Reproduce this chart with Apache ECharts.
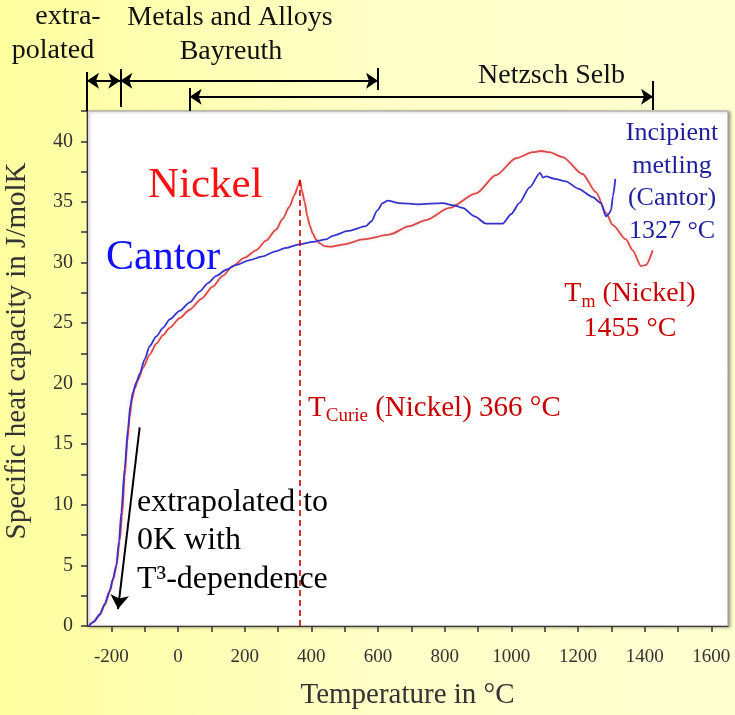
<!DOCTYPE html>
<html><head><meta charset="utf-8">
<script src="https://cdn.jsdelivr.net/npm/echarts@6/dist/echarts.min.js"></script>
<style>html,body{margin:0;padding:0;background:#fff;}#c{width:735px;height:715px;}</style>
</head><body><div id="c"></div>
<script>
// ---- data (temperature in °C, specific heat capacity in J/molK) ----
const nickelT  = [-265,-250,-235,-220,-205,-195,-185,-175,-168,-160,-152,-145,-138,-130,-120,-105,-85,-65,-45,-25,5,35,70,104,134,164,200,234,264,294,314,334,350,360,366,372,380,388,396,404,414,424,440,454,500,554,634,694,744,814,894,954,1014,1064,1090,1114,1154,1214,1254,1284,1304,1344,1364,1389,1404,1424];
const nickelCp = [0.1,0.4,0.9,1.7,2.8,3.8,4.9,7.0,9.0,12.3,15.2,17.2,18.7,19.6,20.3,21.3,22.4,23.3,24.0,24.6,25.4,26.1,27.0,28.0,28.9,29.7,30.4,31.0,31.8,32.7,33.6,34.6,35.6,36.3,36.8,35.9,35.0,33.8,33.0,32.4,31.9,31.6,31.35,31.3,31.5,31.9,32.3,33.0,33.5,34.5,35.7,37.2,38.6,39.1,39.2,39.1,38.7,37.3,35.8,34.1,33.1,31.9,31.0,29.7,29.8,31.0];
const cantorT  = [-268,-255,-235,-220,-205,-195,-185,-177,-170,-160,-150,-143,-135,-125,-115,-100,-85,-65,-45,-25,5,35,65,90,115,145,175,215,254,290,324,364,404,444,464,510,564,580,598,614,629,664,720,794,830,854,890,924,974,1000,1024,1055,1086,1095,1104,1130,1164,1200,1244,1269,1284,1292,1299,1305,1312];
const cantorCp = [0.0,0.3,0.95,1.8,2.9,3.9,5.0,7.0,9.4,13.0,16.3,18.2,19.3,20.1,20.8,22.0,23.1,23.9,24.6,25.3,26.0,26.7,27.6,28.3,28.9,29.4,29.8,30.2,30.5,30.9,31.2,31.5,31.7,31.9,32.2,32.6,33.0,33.4,34.3,34.9,35.1,34.9,34.8,34.9,34.7,34.5,33.8,33.2,33.2,34.0,34.9,36.2,37.4,37.0,37.1,36.9,36.7,36.1,35.4,34.9,33.8,34.0,34.3,35.5,36.9];
const curie = [366, 36.8];                 // Curie temperature of nickel and peak value
const extrapArrow = [[-115, 16.4], [-180, 1.4]]; // T^3 extrapolation arrow
const xTicks  = [-200,-100,0,100,200,300,400,500,600,700,800,900,1000,1100,1200,1300,1400,1500,1600];
const xLabels = [-200,0,200,400,600,800,1000,1200,1400,1600];
const xRange = [-273, 1650];
const yRange = [0, 42.5];
// measurement ranges shown above the plot
const rangeExtrap   = [-273, -173];
const rangeBayreuth = [-173, 600];
const rangeNetzsch  = [35, 1425];

const serif = '"Liberation Serif","Times New Roman",serif';
const chart = echarts.init(document.getElementById('c'), null, {renderer: 'canvas'});

function pairs(xs, ys) { return xs.map((x, i) => [x, ys[i]]); }

// top annotation geometry (grid 1 y-units = px above plot top)
const arrowsTop = [
  {coords: [[rangeExtrap[0], 30.3], [rangeExtrap[1], 30.3]]},
  {coords: [[rangeBayreuth[0], 30.3], [rangeBayreuth[1], 30.3]]},
  {coords: [[rangeNetzsch[0], 14.3], [rangeNetzsch[1], 14.3]]}
];
const barsTop = [
  {coords: [[rangeExtrap[0], 0], [rangeExtrap[0], 39]]},
  {coords: [[rangeExtrap[1], 4], [rangeExtrap[1], 42]]},
  {coords: [[rangeBayreuth[1], 21], [rangeBayreuth[1], 43]]},
  {coords: [[rangeNetzsch[0], 0], [rangeNetzsch[0], 23]]},
  {coords: [[rangeNetzsch[1], 1], [rangeNetzsch[1], 30]]}
];

function txt(text, x, y, size, color, align, extra) {
  return Object.assign({
    type: 'text', x: x, y: y, z: 100,
    style: {text: text, fontSize: size, fontFamily: serif, fill: color,
            align: align || 'left', verticalAlign: 'middle'}
  }, extra || {});
}

const option = {
  animation: false,
  grid: [
    {left: 87, right: 7, top: 111, bottom: 88, show: true, backgroundColor: '#ffffff',
     borderColor: '#9a9a9a', borderWidth: 1,
     shadowColor: 'rgba(0,0,0,0.35)', shadowBlur: 3, shadowOffsetX: 2, shadowOffsetY: 1},
    {left: 87, right: 7, top: 60, height: 51, show: false}
  ],
  xAxis: [
    {type: 'value', gridIndex: 0, min: xRange[0], max: xRange[1],
     name: 'Temperature in °C', nameLocation: 'middle', nameGap: 55,
     nameTextStyle: {fontFamily: serif, fontSize: 29, color: '#333'},
     axisLine: {onZero: false, lineStyle: {color: '#333', width: 1.2}},
     axisTick: {show: true, length: 6, customValues: xTicks, lineStyle: {color: '#333', width: 1.5}},
     axisLabel: {customValues: xLabels, fontFamily: serif, fontSize: 19, color: '#333', margin: 22,
       formatter: v => String(v)},
     splitLine: {show: false}},
    {type: 'value', gridIndex: 1, min: xRange[0], max: xRange[1], show: false}
  ],
  yAxis: [
    {type: 'value', gridIndex: 0, min: yRange[0], max: yRange[1], interval: 2.5,
     axisLine: {show: true, onZero: false, lineStyle: {color: '#333', width: 1.2}},
     axisTick: {show: true, length: 6, lineStyle: {color: '#333', width: 1.5}},
     axisLabel: {fontFamily: serif, fontSize: 20, color: '#333', margin: 14,
       formatter: v => (Math.abs(v % 5) < 1e-9 ? String(v) : '')},
     splitLine: {show: false}},
    {type: 'value', gridIndex: 1, min: 0, max: 51, show: false}
  ],
  series: [
    {name: 'Nickel', type: 'line', xAxisIndex: 0, yAxisIndex: 0, data: pairs(nickelT, nickelCp),
     showSymbol: false, smooth: 0.25, smoothMonotone: 'x',
     lineStyle: {color: '#d94848', width: 1.8, shadowColor: 'rgba(255,120,120,0.35)', shadowBlur: 4},
     markLine: {silent: true, symbol: ['none', 'none'], label: {show: false},
       lineStyle: {color: '#d00000', type: [6, 4], width: 1.6},
       data: [[{coord: [curie[0], 0]}, {coord: [curie[0], curie[1]]}]]}},
    {name: 'Cantor', type: 'line', xAxisIndex: 0, yAxisIndex: 0, data: pairs(cantorT, cantorCp),
     showSymbol: false, smooth: 0.25, smoothMonotone: 'x',
     lineStyle: {color: '#3333cc', width: 1.8}},
    {type: 'lines', coordinateSystem: 'cartesian2d', xAxisIndex: 0, yAxisIndex: 0, clip: false,
     symbol: ['none', 'arrow'], symbolSize: 14,
     lineStyle: {color: '#000', width: 2, opacity: 1, curveness: 0},
     data: [{coords: extrapArrow}]},
    {type: 'lines', coordinateSystem: 'cartesian2d', xAxisIndex: 1, yAxisIndex: 1, clip: false,
     symbol: ['arrow', 'arrow'], symbolSize: 12,
     lineStyle: {color: '#000', width: 2, opacity: 1, curveness: 0},
     data: arrowsTop},
    {type: 'lines', coordinateSystem: 'cartesian2d', xAxisIndex: 1, yAxisIndex: 1, clip: false,
     symbol: ['none', 'none'],
     lineStyle: {color: '#000', width: 2, opacity: 1, curveness: 0},
     data: barsTop}
  ],
  graphic: [
    {type: 'rect', z: -100, shape: {x: 0, y: 0, width: 735, height: 715}, silent: true,
     style: {fill: {type: 'linear', x: 0, y: 0, x2: 1, y2: 0,
       colorStops: [{offset: 0, color: '#ffffa0'}, {offset: 0.5, color: '#ffffc6'}, {offset: 1, color: '#ffffd2'}]}}},
    // y-axis title
    txt('Specific heat capacity in J/molK', 17, 351, 29, '#333', 'center', {rotation: Math.PI / 2}),
    // top labels
    txt('extra-', 68, 17, 28, '#111', 'center'),
    txt('polated', 53, 51, 28, '#111', 'center'),
    txt('Metals and Alloys', 230, 18, 28, '#111', 'center'),
    txt('Bayreuth', 231, 52, 28, '#111', 'center'),
    txt('Netzsch Selb', 478, 76, 28, '#111', 'left'),
    // series labels
    txt('Nickel', 148, 186, 43, '#ff1010', 'left'),
    txt('Cantor', 106, 258, 42, '#1010ff', 'left'),
    {type: 'text', x: 672, y: 117, z: 100,
     style: {text: 'Incipient\nmetling\n(Cantor)\n1327 °C', fontSize: 26, lineHeight: 32.5,
       fontFamily: serif, fill: '#1e1e9c', align: 'center', verticalAlign: 'top'}},
    {type: 'text', x: 630, y: 276, z: 100,
     style: {text: '{a|T}{s|m}{a| (Nickel)}\n{a|1455 °C}', align: 'center', verticalAlign: 'top',
       fontFamily: serif, fontSize: 28, fill: '#c80000',
       rich: {a: {fontFamily: serif, fontSize: 28, lineHeight: 35, fill: '#c80000'},
              s: {fontFamily: serif, fontSize: 18, lineHeight: 14, verticalAlign: 'bottom', fill: '#c80000'}}}},
    {type: 'text', x: 308, y: 391, z: 100,
     style: {text: '{a|T}{s|Curie}{a| (Nickel) 366 °C}', align: 'left', verticalAlign: 'top',
       fontFamily: serif, fontSize: 29, fill: '#c80000',
       rich: {a: {fontFamily: serif, fontSize: 29, lineHeight: 35, fill: '#c80000'},
              s: {fontFamily: serif, fontSize: 19, lineHeight: 14, verticalAlign: 'bottom', fill: '#c80000'}}}},
    {type: 'text', x: 137, y: 483, z: 100,
     style: {text: 'extrapolated to\n0K with\nT³-dependence', fontSize: 32, lineHeight: 38.5,
       fontFamily: serif, fill: '#000', align: 'left', verticalAlign: 'top'}}
  ]
};
chart.setOption(option);
</script></body></html>
